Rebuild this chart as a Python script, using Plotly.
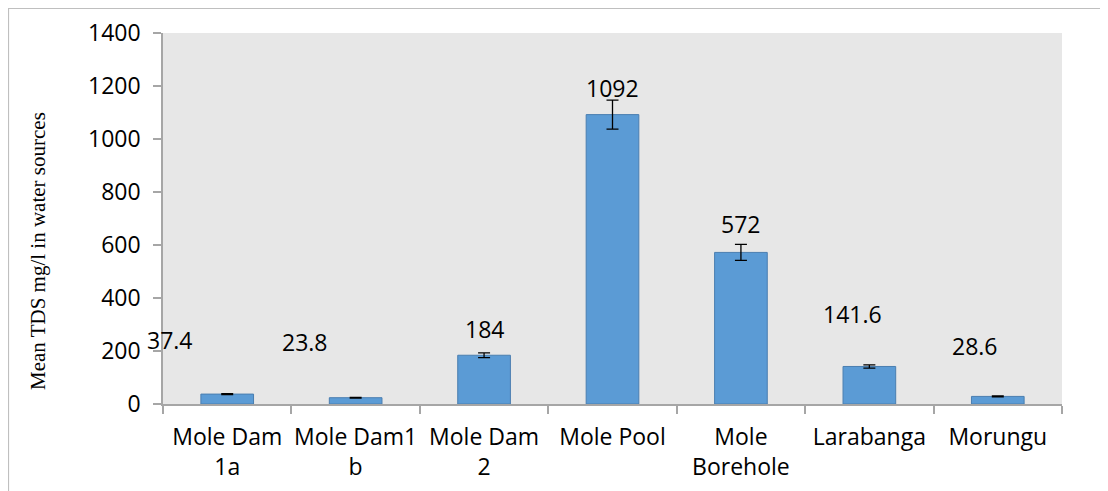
import plotly.graph_objects as go

categories = ["Mole Dam<br>1a", "Mole Dam1<br>b", "Mole Dam<br>2", "Mole Pool",
              "Mole<br>Borehole", "Larabanga", "Morungu"]
values = [37.4, 23.8, 184, 1092, 572, 141.6, 28.6]
errors = [2, 1.5, 9, 55, 30, 6, 1.5]
value_labels = ["37.4", "23.8", "184", "1092", "572", "141.6", "28.6"]
y_ticks = [0, 200, 400, 600, 800, 1000, 1200, 1400]

# label pixel offsets (Excel-style manual placement)
label_dx = [-57, -51, 0, 0, 0, -17, -23]
label_dy = [54, 56, 26, 27, 28, 52, 50]

ML, MT, PW, PH = 155, 25, 899, 371

fig = go.Figure()
fig.add_trace(go.Bar(
    x=categories, y=values, width=0.41,
    marker=dict(color="#5B9BD5", line=dict(color="#4A7EB0", width=1)),
    error_y=dict(type="data", array=errors, visible=True, color="black",
                 thickness=1.3, width=6),
    hoverinfo="skip",
))

for c, v, t, dx, dy in zip(categories, values, value_labels, label_dx, label_dy):
    fig.add_annotation(x=c, y=v, text=t, showarrow=False, xshift=dx, yshift=dy,
                       font=dict(family="Open Sans", size=23, color="black"))

fig.add_annotation(xref="paper", yref="paper", x=0, y=1 - (243 - MT) / PH,
                   xshift=-139, textangle=-90, showarrow=False,
                   text="Mean TDS mg/l in water sources",
                   font=dict(family="Liberation Serif", size=21, color="black"))

fig.add_shape(type="rect", xref="paper", yref="paper",
              x0=(0.5 - ML) / PW, x1=1.2, y0=-0.4, y1=1 + (MT - 0.5) / PH,
              line=dict(color="#BFBFBF", width=1.2), fillcolor="rgba(0,0,0,0)",
              layer="below")

fig.update_layout(
    width=1108, height=491,
    margin=dict(l=ML, r=1108 - ML - PW, t=MT, b=491 - MT - PH, autoexpand=False),
    paper_bgcolor="white", plot_bgcolor="#E7E7E7",
    showlegend=False,
    font=dict(family="Open Sans", size=23, color="black"),
)
fig.update_xaxes(
    range=[-0.5, len(categories) - 0.5],
    showline=True, linecolor="#A6A6A6", linewidth=1.5,
    ticks="outside", tickson="boundaries", ticklen=8, tickcolor="#A6A6A6",
    tickwidth=1.5, showgrid=False, ticklabelstandoff=12, tickangle=0,
    automargin=False,
    tickfont=dict(family="Open Sans", size=23, color="black"),
)
fig.update_yaxes(
    range=[0, 1400], tickvals=y_ticks, ticktext=[str(t) for t in y_ticks],
    showline=True, linecolor="#A6A6A6", linewidth=1.5,
    ticks="outside", ticklen=8, tickcolor="#A6A6A6", tickwidth=1.5,
    showgrid=False, zeroline=False, automargin=False, ticklabelstandoff=8,
    tickfont=dict(family="Open Sans", size=23, color="black"),
)

fig.write_html("out.html")
